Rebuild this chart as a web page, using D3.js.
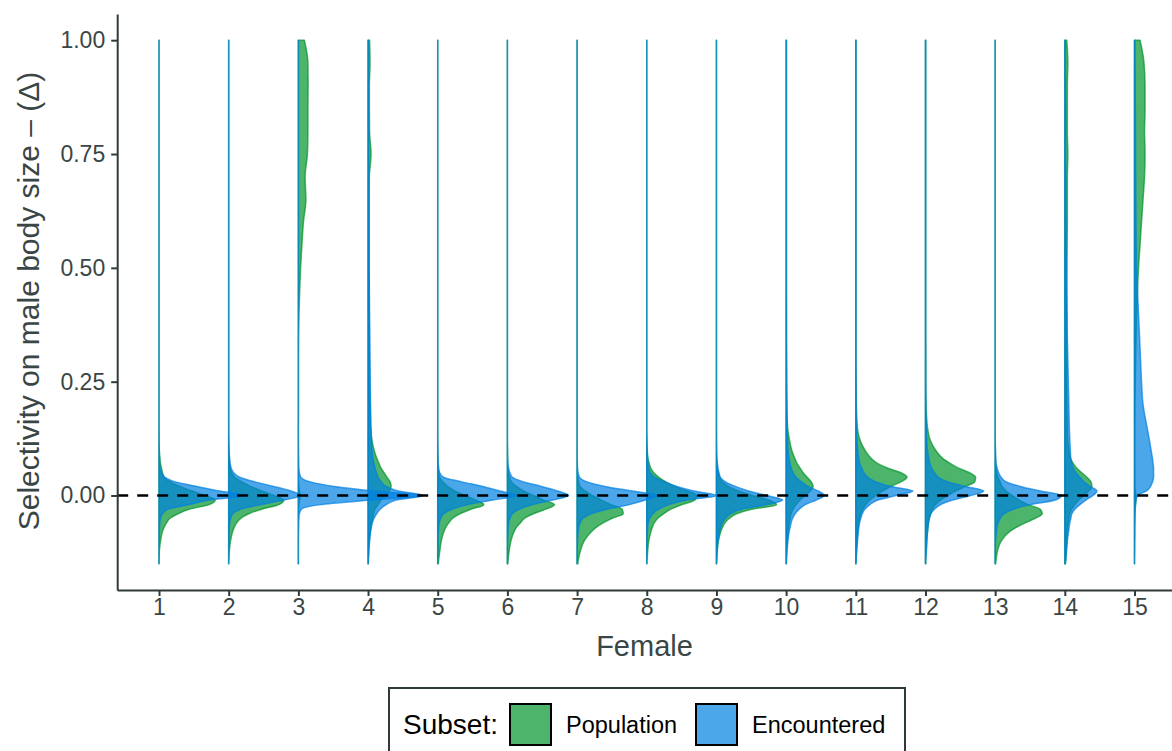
<!DOCTYPE html>
<html><head><meta charset="utf-8">
<script src="https://cdn.jsdelivr.net/npm/d3@7"></script>
<style>body{margin:0;background:#fff} svg{display:block}</style>
</head><body>
<svg id="chart" width="1172" height="751"></svg>
<script>
// ---------------- data ----------------
const females = [1,2,3,4,5,6,7,8,9,10,11,12,13,14,15];
const subsets = ["Population","Encountered"];
const subsetColors = ["#00942c","#0080e1"];
const yTicks = [0, 0.25, 0.5, 0.75, 1];
// selectivity values at which densities were read
const yGrid = [-0.15,-0.14,-0.12,-0.10,-0.08,-0.07,-0.06,-0.05,-0.04,-0.03,-0.02,-0.01,
  0,
  0.01,0.02,0.03,0.04,0.05,0.06,0.07,0.08,
  0.10,0.12,0.15,
  0.20,0.25,0.30,0.35,0.40,0.45,0.50,0.55,0.60,0.65,0.70,0.75,0.80,0.85,0.90,0.95,1.00];
const Z17 = [0,0,0,0,0,0,0,0,0,0,0,0,0,0,0,0,0];
// density (relative units) of the Population subset, one row per female
const populationDensity = [
  [0,0.1,0.4,1.5,3.3,5,7.5,11,19,30,50,56, 46, 33,21,11,5,3.5,2.5,1.5,1, 0.3,0.1,0, ...Z17],
  [0,0.2,0.7,1.8,3.8,5.5,8,12,20,33,50,55, 45, 33,22,13,6,3,1.5,1,0.6, 0.3,0.1,0, ...Z17],
  [0,0,0,0,0,0,0,0,0,0.2,0.5,1.2, 2, 1.2,0.5,0.2,0,0,0,0,0, 0,0,0,
    0.1,0.1,0.1,0.2,0.6,1.3,2.2,3.5,5,7.5,6.7,9,9.5,9.5,9.7,9.5,6],
  [0.2,0.3,0.7,1.3,2.2,2.8,3.5,4.5,5.5,7,10,13, 17, 21,23,22,19,16,13,11,9, 6,4,2.5,
    1.8,1.5,1.3,1.2,1.2,1.2,1.2,1.2,1.2,1.2,1.3,3,1.5,1.3,1.3,2,1.5],
  [0.5,1,2.2,3.5,6,8,11,15,22,33,46,38, 27, 17,10,5,2,1,0.5,0.3,0.2, 0.1,0,0, ...Z17],
  [0.4,0.8,1.8,3.5,6.5,9,13,17,26,38,47,36, 26, 16,9,4,2,1,0.5,0.3,0.2, 0.1,0,0, ...Z17],
  [0.8,1.3,3.5,7,14,19,26,35,46,45,34,24, 15, 8,3,1.5,0.7,0.3,0.1,0,0, 0,0,0, ...Z17],
  [0.1,0.4,1,2,4,5.5,7.5,11,17,24,35,48, 50, 40,28,19,12,7,4,2.5,1.3, 0.5,0.2,0, ...Z17],
  [0.2,0.4,0.9,2,4.2,6,8.5,13,20,35,60,52, 36, 22,12,6,3,2,1,0.5,0.3, 0.1,0,0, ...Z17],
  [0.1,0.2,0.6,1.2,2,2.5,3,4,5,7,10,14, 19, 24,27,25,21,17,14,11,9, 5.5,3.5,1.5,
    0.8,0.5,0.4,0.3,0.3,0.3,0.3,0.3,0.3,0.3,0.3,0.3,0.3,0.3,0.3,0.3,0.3],
  [0.2,0.3,0.7,1.3,2,2.5,3,3.8,5,7,10,14, 20, 27,35,45,51,45,32,22,16, 9,4.5,1.5,
    0.5,0.3,0.2,0.2,0.2,0.2,0.2,0.2,0.2,0.2,0.2,0.2,0.2,0.2,0.2,0.2,0.2],
  [0.2,0.3,0.7,1.2,2,2.5,3,3.8,5,7,10,15, 22, 30,40,49,50,44,33,25,18, 10,5,2,
    0.6,0.3,0.3,0.2,0.2,0.2,0.2,0.2,0.2,0.2,0.2,0.2,0.2,0.2,0.2,0.2,0.2],
  [0.5,1,2.5,6,14,21,30,40,47,45,33,24, 17, 11,7,5,3,1.5,1,0.6,0.4, 0.2,0.1,0, ...Z17],
  [0.5,1,1.5,2,2.5,3,3.5,4.2,5,7,10,14, 19, 24,27,26,22,17,12,8.5,6, 4,3,2.5,
    2.2,2,2,2,2,2,2.2,2.3,2.5,2.5,2.5,3,2.5,2.5,2.5,3,2],
  [0,0,0.1,0.1,0.2,0.2,0.3,0.3,0.4,0.5,1,1.5, 1.5, 0.8,0.5,0.4,0.4,0.4,0.4,0.3,0.3, 0.3,0.3,0.4,
    0.5,0.8,1.2,1.6,2.2,3,4,5.5,7,8.5,10,10.5,10,10.5,10.5,9.5,5.5]
];
// density (relative units) of the Encountered subset, one row per female
const encounteredDensity = [
  [0,0,0,0.1,0.3,0.5,0.8,1.5,3.5,9,30,50, 86, 60,38,16,6,2.5,1,0.6,0.4, 0.2,0.1,0, ...Z17],
  [0,0,0,0.2,0.4,0.6,1,2,4,12,32,55, 72, 62,45,26,11,5,2.5,1.5,1, 0.4,0.2,0, ...Z17],
  [0,0,0,0,0.1,0.2,0.3,0.5,1,3,22,72, 125, 75,36,12,2.5,1,0.5,0.3,0.2, 0.1,0,0, ...Z17],
  [0.2,0.4,0.9,1.5,2.5,3.3,4.3,6,8.5,12,18,28, 55, 30,18,13,10,8.5,7,6,5, 4,3.5,3,
    2.5,2.2,2,1.8,1.5,1.3,1,0.9,0.8,0.7,0.6,0.6,0.5,0.5,0.4,0.4,0.3],
  [0,0,0.1,0.3,0.6,1,1.5,3,6,14,30,55, 78, 62,45,24,6,2,1,0.6,0.4, 0.2,0.1,0, ...Z17],
  [0,0,0,0.2,0.5,0.8,1.2,2.5,5,12,25,45, 61, 50,34,16,5,2.5,1.2,0.6,0.3, 0.1,0,0, ...Z17],
  [0,0,0.1,0.4,1,1.5,3,6,14,30,52,68, 80, 55,28,10,2.5,1,0.5,0.3,0.2, 0.1,0,0, ...Z17],
  [0,0,0,0.2,0.6,1,1.5,3,6,12,22,40, 70, 47,30,18,8,3.5,2,1.3,0.8, 0.4,0.2,0, ...Z17],
  [0,0.3,0.7,1.5,3,4,6,9,14,25,50,66, 50, 32,19,9,4,2.5,1.5,1,0.5, 0.2,0.1,0, ...Z17],
  [0.3,0.5,1,1.8,3,4,5,6.5,9,13,19,30, 38, 32,22,15,10,7,5,4,3, 2,1.5,1,
    0.7,0.6,0.5,0.4,0.4,0.3,0.3,0.3,0.3,0.3,0.3,0.3,0.3,0.3,0.3,0.3,0.3],
  [0.3,0.5,1,1.7,2.5,3,3.8,5,6.5,9,14,22, 40, 57,35,20,12,8,6,4,3, 2,1.2,0.8,
    0.5,0.4,0.3,0.3,0.3,0.3,0.3,0.3,0.3,0.3,0.3,0.3,0.3,0.3,0.3,0.3,0.3],
  [0.2,0.4,1,1.5,2,2.5,3,4,5.5,9,15,27, 45, 58,40,22,13,9,6,4.5,3.5, 2,1.3,0.8,
    0.5,0.4,0.3,0.3,0.3,0.3,0.3,0.3,0.3,0.3,0.3,0.3,0.3,0.3,0.3,0.3,0.3],
  [0,0,0.1,0.4,1.2,1.8,3,5,9,18,35,60, 66, 45,25,11,6,3.5,2,1,0.6, 0.3,0.1,0, ...Z17],
  [0.5,1,1.8,2.5,3.7,4.3,5,6,7,10,15,21, 28, 32,25,19,15,11,8.5,7,6, 5.5,5,4.5,
    4,3.5,3,2.5,2.2,1.8,1.5,1.3,1.2,1,1,0.8,0.8,0.7,0.6,0.5,0.5],
  [0,0,0.1,0.2,0.3,0.3,0.4,0.5,0.6,0.8,1,1.5, 3, 12,16,18,19,19,19,18.5,18, 16.5,15,12.5,
    8.5,7,6,5,4,3,2,1.7,1.5,1.3,1.2,1,1,0.8,0.7,0.6,0.5]
];

// ---------------- chart ----------------
const FONT = "'Liberation Sans', Arial, Helvetica, sans-serif";
const AXIS_COL = "#2f3a3a";
const TEXT_COL = "#3a4646";
const svg = d3.select("#chart").style("font-family", FONT);

const x = d3.scalePoint().domain(females).range([117.2, 1176.3]).padding(0.6);
const y = d3.scaleLinear().domain([-0.2075, 1.0575]).range([590, 14]);
const maxDensity = d3.max([...populationDensity.flat(), ...encounteredDensity.flat()]);
const wScale = d3.scaleLinear().domain([0, maxDensity]).range([0, x.step() * 1.8]);

const seriesData = [populationDensity, encounteredDensity];

const plot = svg.append("g");
seriesData.forEach((rows, si) => {
  const g = plot.append("g").attr("class", "subset-" + subsets[si]);
  females.forEach((f, fi) => {
    const base = x(f);
    const pts = yGrid.map((v, k) => ({v, d: rows[fi][k]}));
    const area = d3.area()
      .curve(d3.curveMonotoneY)
      .y(d => y(d.v))
      .x0(base)
      .x1(d => base + wScale(d.d));
    g.append("path")
      .attr("d", area(pts))
      .attr("fill", subsetColors[si])
      .attr("fill-opacity", 0.7)
      .attr("stroke", subsetColors[si])
      .attr("stroke-opacity", 0.7)
      .attr("stroke-width", 1.5)
      .attr("stroke-linejoin", "round");
  });
});

// reference line at zero
svg.append("line")
  .attr("x1", 117.2).attr("x2", 1172)
  .attr("y1", y(0)).attr("y2", y(0))
  .attr("stroke", "#000").attr("stroke-width", 2.3)
  .attr("stroke-dasharray", "11,9");

// axes
const yAxis = svg.append("g")
  .attr("transform", "translate(117.2,0)")
  .call(d3.axisLeft(y).tickValues(yTicks).tickFormat(d3.format(".2f"))
    .tickSize(6).tickSizeOuter(0).tickPadding(6));
yAxis.attr("font-family", FONT).attr("font-size", 23);
yAxis.select(".domain").attr("stroke", AXIS_COL).attr("stroke-width", 2);
yAxis.selectAll(".tick line").attr("stroke", AXIS_COL).attr("stroke-width", 2);
yAxis.selectAll(".tick text").attr("fill", TEXT_COL);

const xAxis = svg.append("g")
  .attr("transform", "translate(0,590)")
  .call(d3.axisBottom(x).tickSize(6).tickSizeOuter(0).tickPadding(3));
xAxis.attr("font-family", FONT).attr("font-size", 23);
xAxis.select(".domain").attr("stroke", AXIS_COL).attr("stroke-width", 2);
xAxis.selectAll(".tick line").attr("stroke", AXIS_COL).attr("stroke-width", 2);
xAxis.selectAll(".tick text").attr("fill", TEXT_COL);

// axis titles
svg.append("text")
  .attr("transform", "translate(39,301) rotate(-90)")
  .attr("text-anchor", "middle")
  .attr("font-size", 30)
  .attr("fill", TEXT_COL)
  .text("Selectivity on male body size \u2013 (\u0394)");

svg.append("text")
  .attr("x", 644.5).attr("y", 656)
  .attr("text-anchor", "middle")
  .attr("font-size", 29)
  .attr("fill", TEXT_COL)
  .text("Female");

// legend
const lg = svg.append("g");
lg.append("rect")
  .attr("x", 389).attr("y", 688).attr("width", 516).attr("height", 90)
  .attr("fill", "#fff").attr("stroke", AXIS_COL).attr("stroke-width", 2);
lg.append("text").attr("x", 403).attr("y", 734)
  .attr("font-size", 28).attr("fill", "#000").text("Subset:");
const keyX = [510, 696];
const labX = [566, 752];
subsets.forEach((s, i) => {
  lg.append("rect")
    .attr("x", keyX[i]).attr("y", 704).attr("width", 41).attr("height", 41)
    .attr("fill", subsetColors[i]).attr("fill-opacity", 0.7)
    .attr("stroke", "#000").attr("stroke-width", 2);
  lg.append("text").attr("x", labX[i]).attr("y", 733)
    .attr("font-size", 23.5).attr("fill", "#000").text(s);
});
</script>
</body></html>
